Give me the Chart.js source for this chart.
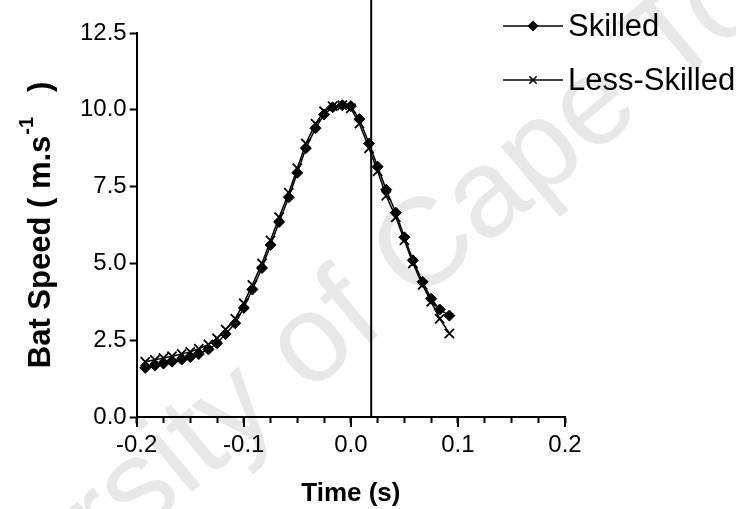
<!DOCTYPE html>
<html>
<head>
<meta charset="utf-8">
<script src="https://cdn.jsdelivr.net/npm/chart.js@4.4.1/dist/chart.umd.min.js"></script>
<style>
  html, body { margin: 0; padding: 0; background: #fff; }
  #wrap { width: 736px; height: 509px; position: relative; }
</style>
</head>
<body>
<div id="wrap"><canvas id="BatChart" width="736" height="509"></canvas></div>
<script>
// time samples (s)
var Time_s = [-0.192, -0.183, -0.175, -0.167, -0.158, -0.150, -0.142, -0.133, -0.125, -0.117, -0.108, -0.100,
  -0.092, -0.083, -0.075, -0.067, -0.058, -0.050, -0.042, -0.033, -0.025, -0.017, -0.008, 0.000,
  0.008, 0.017, 0.025, 0.033, 0.042, 0.050, 0.058, 0.067, 0.075, 0.083, 0.092]
var Skilled = [1.60, 1.68, 1.74, 1.80, 1.87, 1.95, 2.05, 2.20, 2.40, 2.70, 3.05, 3.55,
  4.15, 4.85, 5.60, 6.35, 7.15, 7.95, 8.75, 9.40, 9.85, 10.08, 10.15, 10.12,
  9.70, 8.90, 8.15, 7.40, 6.65, 5.85, 5.10, 4.40, 3.85, 3.50, 3.30]
var Less_Skilled = [1.80, 1.86, 1.92, 1.98, 2.05, 2.12, 2.22, 2.36, 2.56, 2.85, 3.20, 3.70,
  4.30, 5.00, 5.75, 6.50, 7.30, 8.10, 8.90, 9.55, 9.95, 10.12, 10.15, 10.05,
  9.55, 8.75, 8.00, 7.20, 6.50, 5.75, 5.00, 4.30, 3.75, 3.20, 2.72]
var Series_Labels = ["Skilled", "Less-Skilled"]
var Impact_Time = 0.019
var X_Ticks = [-0.2, -0.1, 0.0, 0.1, 0.2]

var FONT = "'Liberation Sans', Arial, sans-serif"

function toPoints(xs, ys){
  var out = []
  for (var i = 0; i < xs.length; i++){ out.push({x: xs[i], y: ys[i]}) }
  return out
}

// faint watermark behind everything
var watermark = {
  id: "watermark",
  beforeDraw: function(chart){
    var c = chart.ctx
    c.save()
    c.translate(355, 310)
    c.rotate(-40 * Math.PI / 180)
    c.font = "125px " + FONT
    c.fillStyle = "#e8e8e8"
    c.textAlign = "center"
    c.textBaseline = "middle"
    c.fillText("University of Cape Town", 0, 0)
    c.restore()
  }
}

// y title with superscript, longer major ticks on x, legend at top right
var extras = {
  id: "extras",
  afterDraw: function(chart){
    var c = chart.ctx, area = chart.chartArea
    var xs = chart.scales.x
    c.save()
    c.strokeStyle = "#000"
    c.lineWidth = 2
    for (var i = 0; i < X_Ticks.length; i++){
      var px = Math.round(xs.getPixelForValue(X_Ticks[i]))
      c.beginPath(); c.moveTo(px, area.bottom); c.lineTo(px, area.bottom + 10); c.stroke()
    }
    // y axis title
    var main = "bold 31px " + FONT, sup = "bold 20px " + FONT
    var a = "Bat Speed ( m.s", s = "-1", b = "   )"
    c.font = main; var wa = c.measureText(a).width, wb = c.measureText(b).width
    c.font = sup; var ws = c.measureText(s).width
    var total = wa + ws + wb
    c.translate(area.left - 98, (area.top + area.bottom) / 2)
    c.rotate(-Math.PI / 2)
    c.fillStyle = "#000"
    c.textBaseline = "alphabetic"
    c.textAlign = "left"
    var x0 = -total / 2
    c.font = main; c.fillText(a, x0, 11)
    c.font = sup; c.fillText(s, x0 + wa + 1, -6)
    c.font = main; c.fillText(b, x0 + wa + ws, 11)
    c.restore()

    // legend
    c.save()
    var lx = 503, lw = 60
    for (var k = 0; k < 2; k++){
      var ds = chart.data.datasets[k]
      var ly = 26 + k * 54
      c.strokeStyle = "#000"; c.lineWidth = 1.5
      c.beginPath(); c.moveTo(lx, ly); c.lineTo(lx + lw, ly); c.stroke()
      Chart.helpers.drawPoint(c, {
        pointStyle: ds.pointStyle, radius: ds.pointRadius * 0.8, borderWidth: ds.pointBorderWidth
      }, lx + lw / 2, ly)
      c.fillStyle = "#000"
      c.font = "31px " + FONT
      c.textBaseline = "middle"
      c.fillText(Series_Labels[k], lx + lw + 5, ly + 1)
    }
    c.restore()
  }
}

var config = {
  type: "scatter",
  data: {
    datasets: [
      {
        label: Series_Labels[0],
        data: toPoints(Time_s, Skilled),
        showLine: true,
        borderColor: "#000",
        backgroundColor: "#000",
        borderWidth: 1.5,
        pointStyle: "rectRot",
        pointRadius: 5.5,
        pointBorderWidth: 1
      },
      {
        label: Series_Labels[1],
        data: toPoints(Time_s, Less_Skilled),
        showLine: true,
        borderColor: "#000",
        backgroundColor: "#000",
        borderWidth: 1.5,
        pointStyle: "crossRot",
        pointRadius: 6.5,
        pointBorderWidth: 1.8
      },
      {
        label: "impact",
        data: [{x: Impact_Time, y: 0}, {x: Impact_Time, y: 13.8}],
        showLine: true,
        borderColor: "#000",
        borderWidth: 2,
        pointRadius: 0,
        clip: false
      }
    ]
  },
  plugins: [watermark, extras],
  options: {
    responsive: false,
    animation: false,
    layout: { padding: { left: 77, right: 171, top: 33, bottom: 0 } },
    plugins: {
      legend: { display: false },
      tooltip: { enabled: false }
    },
    scales: {
      x: {
        type: "linear",
        min: -0.2,
        max: 0.2,
        border: { color: "#000", width: 2 },
        grid: { drawOnChartArea: false, drawTicks: true, tickLength: 6, tickColor: "#000", tickWidth: 2 },
        ticks: {
          stepSize: 0.025,
          autoSkip: false,
          maxRotation: 0,
          color: "#000",
          padding: 8,
          font: { family: FONT, size: 24 },
          callback: function(v){
            var q = Math.round(v * 40)
            if (q % 4 != 0) return ""
            return (q / 40).toFixed(1)
          }
        },
        title: {
          display: true,
          text: "Time (s)",
          color: "#000",
          font: { family: FONT, size: 26, weight: "bold" },
          padding: { top: 10, bottom: 0 }
        }
      },
      y: {
        type: "linear",
        min: 0,
        max: 12.5,
        border: { color: "#000", width: 2 },
        grid: { drawOnChartArea: false, drawTicks: true, tickLength: 7, tickColor: "#000", tickWidth: 2 },
        ticks: {
          stepSize: 2.5,
          color: "#000",
          padding: 3,
          font: { family: FONT, size: 24 },
          callback: function(v){ return v.toFixed(1) }
        }
      }
    }
  }
}

var ChartObject = new Chart(document.getElementById("BatChart").getContext("2d"), config)
</script>
</body>
</html>
